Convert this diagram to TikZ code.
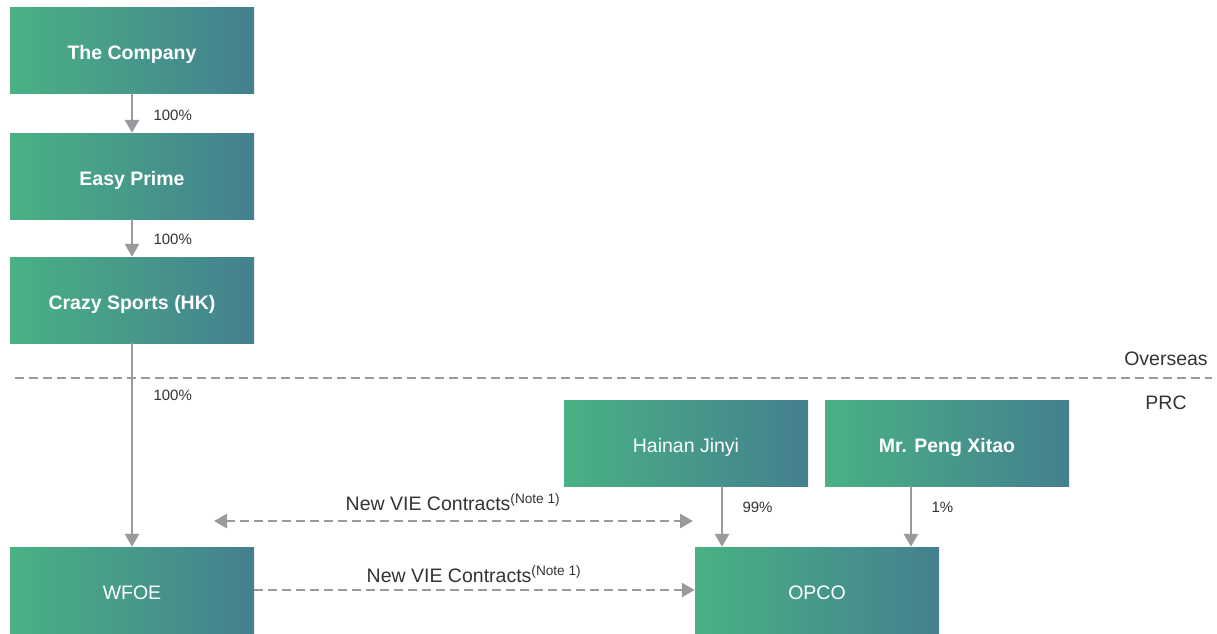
\documentclass[tikz,border=0pt]{standalone}
\usepackage{fontspec}
\setmainfont{Liberation Sans}
\usetikzlibrary{arrows.meta}
\definecolor{boxgreen}{RGB}{73,177,132}
\definecolor{boxteal}{RGB}{68,128,143}
\definecolor{linegray}{RGB}{154,154,158}
\definecolor{labelgray}{RGB}{51,51,51}
\begin{document}
\begin{tikzpicture}[x=1pt, y=-1pt,
    entity/.style={rectangle, minimum width=244pt, minimum height=86pt, inner sep=0pt,
                   text height=18pt, text depth=0pt,
                   left color=boxgreen, right color=boxteal, shading angle=90,
                   text=white, font=\fontsize{19.5}{23}\selectfont},
    own/.style={draw=linegray, line width=2.8pt, -{Triangle[width=14pt,length=13pt]}},
    contract/.style={draw=linegray, line width=2.8pt, dash pattern=on 9pt off 5pt,
                     -{Triangle[width=14pt,length=13pt]}},
    pct/.style={anchor=west, text=labelgray, font=\fontsize{15}{18}\selectfont},
    note/.style={text=labelgray, font=\fontsize{19.5}{23}\selectfont}]
  \useasboundingbox (0,0) rectangle (1217,633);
  % offshore entities
  \node[entity, font=\fontsize{19.5}{23}\selectfont\bfseries] (company) at (132,50) {The Company};
  \node[entity, font=\fontsize{19.5}{23}\selectfont\bfseries] (easy) at (132,176) {Easy Prime};
  \node[entity, font=\fontsize{19.5}{23}\selectfont\bfseries] (crazy) at (132,300) {Crazy Sports (HK)};
  % onshore entities
  \node[entity] (hainan) at (686,443) {Hainan Jinyi};
  \node[entity, font=\fontsize{19.5}{23}\selectfont\bfseries] (peng) at (947,443) {Mr. Peng Xitao};
  \node[entity] (wfoe) at (132,590) {WFOE};
  \node[entity] (opco) at (817,590) {OPCO};
  % border line
  \coordinate (dl) at (15,378);
  \coordinate (dr) at (1212,378);
  \draw[linegray, line width=2.8pt, dash pattern=on 9pt off 5pt] (dl) -- (dr);
  \node[note] (overseas) at (1166,359) {Overseas};
  \node[note] (prc) at (1166,403) {PRC};
  % shareholding
  \draw[own] (company) -- (easy);
  \draw[own] (easy) -- (crazy);
  \draw[own] (crazy) -- (wfoe);
  \coordinate (h99) at (722,0);
  \coordinate (p1) at (911,0);
  \draw[own] (hainan.south -| h99) -- (opco.north -| h99);
  \draw[own] (peng.south -| p1) -- (opco.north -| p1);
  \node[pct] (pa) at (150,115) {100\%};
  \node[pct] (pb) at (150,239) {100\%};
  \node[pct] (pc) at (150,395) {100\%};
  \node[pct] (pd) at (739,507) {99\%};
  \node[pct] (pe) at (928,507) {1\%};
  % contractual arrangements
  \coordinate (vl) at (214,521);
  \coordinate (vr) at (693,521);
  \draw[contract, {Triangle[width=14pt,length=13pt]}-{Triangle[width=14pt,length=13pt]}] (vl) -- (vr);
  \draw[contract] (wfoe.east) -- (opco.west);
  \node[note] (viea) at (453,502) {New VIE Contracts\textsuperscript{(Note 1)}};
  \node[note] (vieb) at (474,574) {New VIE Contracts\textsuperscript{(Note 1)}};
\end{tikzpicture}
\end{document}
